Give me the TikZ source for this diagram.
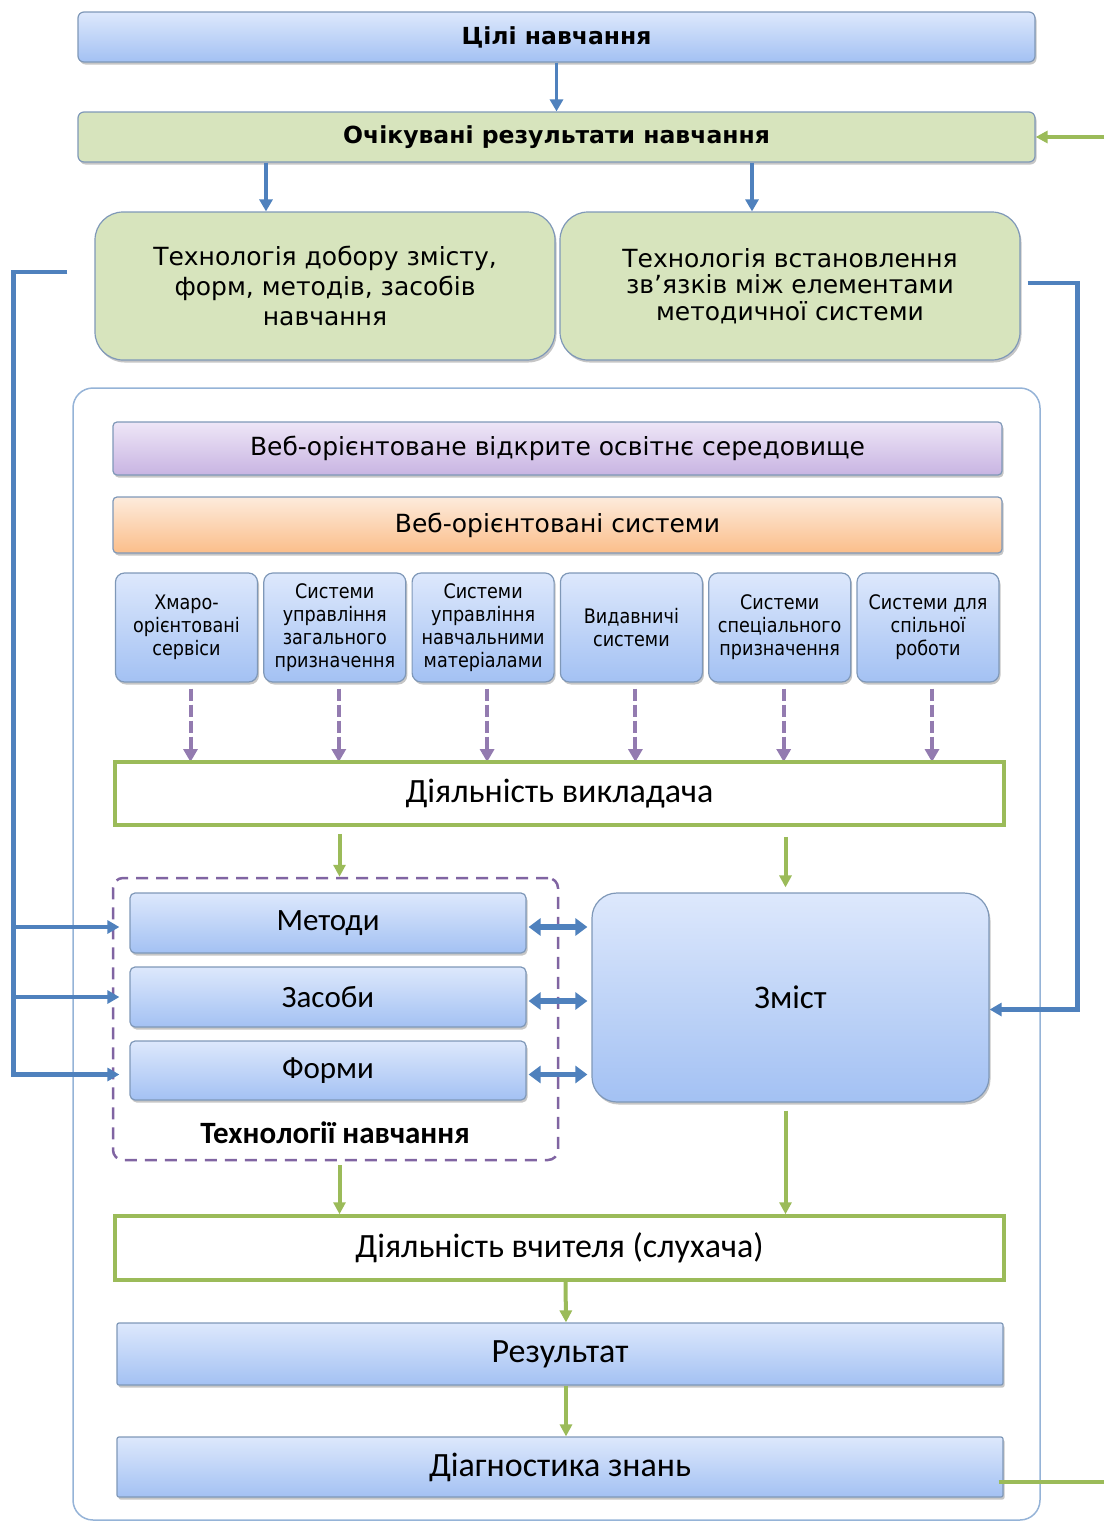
\documentclass[tikz,border=0pt]{standalone}
\usepackage{fontspec}
\setmainfont{Carlito}
\newfontfamily\verdfont{DejaVu Sans}
\newfontfamily\tahfont[FakeStretch=0.88]{DejaVu Sans}
\usetikzlibrary{arrows.meta}
\usetikzlibrary{shadows}
\definecolor{BlueTop}{HTML}{DDE8FC}
\definecolor{BlueBot}{HTML}{A3C1F3}
\definecolor{BoxEdge}{HTML}{7F98B8}
\definecolor{PaleGreen}{HTML}{D7E4BD}
\definecolor{LilacTop}{HTML}{EEE6F7}
\definecolor{LilacBot}{HTML}{C8B4E2}
\definecolor{PeachTop}{HTML}{FDEBDC}
\definecolor{PeachBot}{HTML}{FBBE8A}
\definecolor{LineBlue}{HTML}{4F81BD}
\definecolor{LineGreen}{HTML}{9BBB59}
\definecolor{DashPurple}{HTML}{8064A2}
\definecolor{FrameBlue}{HTML}{95B3D7}
\newcommand{\topfont}{\verdfont\bfseries\fontsize{23.5}{27}\selectfont}
\newcommand{\webfont}{\verdfont\fontsize{25}{29}\selectfont}
\newcommand{\sysfont}{\tahfont\fontsize{20}{23}\selectfont}
\newcommand{\calfont}{\fontsize{34}{38}\selectfont}
\newcommand{\techsfont}{\fontsize{31}{35}\selectfont}
\tikzset{
  box/.style={draw=BoxEdge, line width=1.2pt, rounded corners=6pt, align=center,
    inner sep=0pt, drop shadow={opacity=0.45, shadow xshift=1.5pt, shadow yshift=-2.5pt}},
  bluebox/.style={box, top color=BlueTop, bottom color=BlueBot},
  greenbox/.style={box, fill=PaleGreen},
  actbox/.style={draw=LineGreen, line width=3.5pt, fill=white, align=center, inner sep=0pt},
  barrow/.style={draw=LineBlue, line width=4.5pt, -{Triangle[length=12pt,width=13pt]}},
  garrow/.style={draw=LineGreen, line width=4pt, -{Triangle[length=12pt,width=12pt]}},
  darrow/.style={draw=DashPurple!85, line width=4pt, dash pattern=on 12pt off 4pt,
    -{Triangle[length=13pt,width=14pt]}},
  dblarrow/.style={draw=LineBlue, line width=5.5pt,
    {Triangle[length=12pt,width=17pt]}-{Triangle[length=12pt,width=17pt]}},
}

\begin{document}
\begin{tikzpicture}[x=1pt,y=-1pt]
  \useasboundingbox (0,0) rectangle (1104,1523);

  % upper part
  \node[bluebox, minimum width=957pt, minimum height=50pt, font=\topfont] (Goals) at (556.5,37) {Цілі навчання};
  \node[greenbox, minimum width=957pt, minimum height=50pt, font=\topfont] (Expected) at (556.5,137) {Очікувані результати навчання};
  \node[greenbox, rounded corners=28pt, minimum width=460pt, minimum height=148pt, font=\verdfont\fontsize{25}{30}\selectfont] (TechSelect) at (325,286)
    {Технологія добору змісту,\\ форм, методів, засобів\\ навчання};
  \node[greenbox, rounded corners=28pt, minimum width=460pt, minimum height=148pt, font=\verdfont\fontsize{25}{26.5}\selectfont] (TechLinks) at (790,286)
    {Технологія встановлення\\ зв’язків між елементами\\ методичної системи};

  % outer frame
  \node[draw=FrameBlue, line width=1.5pt, rounded corners=20pt, minimum width=967pt, minimum height=1132pt] (Frame) at (556.5,954) {};

  \node[box, top color=LilacTop, bottom color=LilacBot, rounded corners=4pt, minimum width=889pt, minimum height=53pt, font=\webfont] (WebEnv) at (557.5,448.5)
    {Веб-орієнтоване відкрите освітнє середовище};
  \node[box, top color=PeachTop, bottom color=PeachBot, rounded corners=4pt, minimum width=889pt, minimum height=56pt, font=\webfont] (WebSys) at (557.5,525)
    {Веб-орієнтовані системи};

  % web systems
  \foreach \i/\txt in {1/{Хмаро-\\орієнтовані\\сервіси},
                       2/{Системи\\управління\\загального\\призначення},
                       3/{Системи\\управління\\навчальними\\матеріалами},
                       4/{Видавничі\\системи},
                       5/{Системи\\спеціального\\призначення},
                       6/{Системи для\\спільної\\роботи}}
  {
    \node[bluebox, rounded corners=9pt, minimum width=142pt, minimum height=109pt, font=\sysfont] (Sys\i) at ({186.5+(\i-1)*148.3},627.5) {\txt};
    \draw[darrow] ([xshift=4pt,yshift=-6pt]Sys\i.south) -- ([xshift=4pt]Sys\i.south |- 0,762);
  }

  \node[actbox, minimum width=889pt, minimum height=63pt, font=\calfont] (Teacher) at (559.5,793.5) {Діяльність викладача};

  % technologies and content
  \node[draw=DashPurple, line width=2.5pt, dash pattern=on 12pt off 8pt, rounded corners=10pt, minimum width=445pt, minimum height=282pt] (TechBox) at (335.5,1019) {};
  \node[bluebox, rounded corners=5pt, minimum width=396pt, minimum height=60pt, font=\techsfont] (Methods) at (328,923) {Методи};
  \node[bluebox, rounded corners=5pt, minimum width=396pt, minimum height=60pt, font=\techsfont] (Means) at (328,997) {Засоби};
  \node[bluebox, rounded corners=5pt, minimum width=396pt, minimum height=59pt, font=\techsfont] (Forms) at (328,1070.5) {Форми};
  \node[font=\bfseries\fontsize{31}{35}\selectfont] (TechLabel) at (335,1133) {Технології навчання};
  \node[bluebox, rounded corners=25pt, minimum width=397pt, minimum height=209pt, font=\fontsize{33}{37}\selectfont] (Content) at (790.5,997.5) {Зміст};

  % lower part
  \node[actbox, minimum width=889pt, minimum height=64pt, font=\calfont] (Learner) at (559.5,1248) {Діяльність вчителя (слухача)};
  \node[bluebox, rounded corners=2pt, minimum width=886pt, minimum height=62pt, font=\calfont] (Result) at (560,1354) {Результат};
  \node[bluebox, rounded corners=2pt, minimum width=886pt, minimum height=60pt, font=\calfont] (Diagnosis) at (560,1467) {Діагностика знань};

  \coordinate (FeedTop) at (1104,137);
  \coordinate (FeedBot) at (1104,1482);

  % connectors
  \draw[barrow, line width=3.5pt] (Goals) -- (Expected);
  \draw[barrow, line width=3.5pt] ([xshift=-59pt]Expected.south -| TechSelect.north) -- ([xshift=-59pt]TechSelect.north);
  \draw[barrow, line width=3.5pt] ([xshift=-38pt]Expected.south -| TechLinks.north) -- ([xshift=-38pt]TechLinks.north);
  \draw[garrow] (FeedTop) -- (Expected.east);

  \draw[garrow, shorten <=7pt] ([xshift=4pt]Teacher.south -| TechBox.north) -- ([xshift=4pt]TechBox.north);
  \draw[garrow, shorten <=10pt, shorten >=5pt] ([xshift=-5pt]Teacher.south -| Content.north) -- ([xshift=-5pt]Content.north);
  \foreach \n in {Methods,Means,Forms}
    \draw[dblarrow, shorten <=2pt, shorten >=4pt] ([yshift=-4pt]\n.east) -- ([yshift=-4pt]\n.east -| Content.west);
  \draw[garrow, shorten <=4pt] ([xshift=4pt]TechBox.south) -- ([xshift=4pt]TechBox.south |- Learner.north);
  \draw[garrow, shorten <=8pt] ([xshift=-5pt]Content.south) -- ([xshift=-5pt]Content.south |- Learner.north);
  \draw[garrow] ([xshift=6pt]Learner.south) -- ([xshift=6pt]Result.north);
  \draw[garrow] ([xshift=6pt]Result.south) -- ([xshift=6pt]Diagnosis.north);
  \draw[draw=LineGreen, line width=4pt] ([xshift=-5pt,yshift=-15pt]Diagnosis.east) -- (FeedBot);

  % feedback lines
  \draw[barrow, shorten <=27pt] ([yshift=14pt]TechSelect.west) -- ++(-81pt,0) coordinate (LeftBus) |- ([xshift=-10pt,yshift=-4pt]Forms.west);
  \draw[barrow] (LeftBus |- 0,927) -- ([xshift=-10pt]Methods.west |- 0,927);
  \draw[barrow] (LeftBus |- Means.west) -- ([xshift=-10pt]Means.west);
  \draw[barrow, shorten <=7pt] ([yshift=3pt]TechLinks.east) -- ++(57pt,0) |- ([yshift=-12pt]Content.east);

\end{tikzpicture}
\end{document}
